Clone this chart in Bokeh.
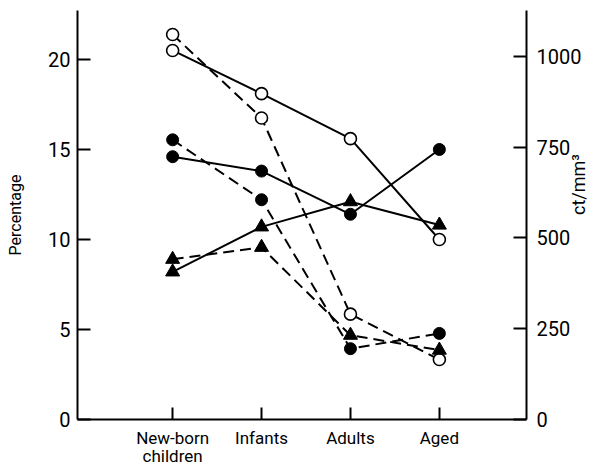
import math
from bokeh.plotting import figure
from bokeh.models import Range1d, LinearAxis, FixedTicker
from bokeh.embed import file_html
from bokeh.resources import INLINE

categories = ["New-born\nchildren", "Infants", "Adults", "Aged"]
pct_ticks = [0, 5, 10, 15, 20]
cnt_ticks = [0, 250, 500, 750, 1000]

# Percentage series (solid lines, left axis)
pct_open = [20.5, 18.1, 15.6, 10.0]
pct_filled = [14.6, 13.8, 11.4, 15.0]
pct_tri = [8.2, 10.7, 12.1, 10.8]

# Count series (dashed lines, right axis, ct/mm3)
cnt_open = [1060, 830, 290, 165]
cnt_filled = [770, 605, 195, 237]
cnt_tri = [441, 474, 232, 191]

xs = list(range(len(categories)))
FONT = "Roboto"

p = figure(width=602, height=468, x_range=Range1d(-1.07, 3.98),
           y_range=Range1d(0, 22.72), output_backend="svg", toolbar_location=None,
           min_border_left=77, min_border_right=76, min_border_top=10,
           min_border_bottom=49)
p.extra_y_ranges = {"right": Range1d(0, 1126)}
p.outline_line_color = None
p.grid.visible = False
p.background_fill_color = "white"
p.border_fill_color = "white"

# x axis
xa = p.xaxis[0]
xa.ticker = FixedTicker(ticks=xs)
xa.major_label_overrides = {i: c for i, c in enumerate(categories)}
xa.minor_tick_line_color = None
xa.major_tick_in = 12
xa.major_tick_out = 0
xa.axis_line_width = 2
xa.major_tick_line_width = 2
xa.major_label_standoff = 8
xa.major_label_text_font = FONT
xa.major_label_text_font_size = "17px"
xa.major_label_text_line_height = 0.9
xa.major_label_text_color = "black"

# left axis
ya = p.yaxis[0]
ya.ticker = FixedTicker(ticks=pct_ticks)
ya.minor_tick_line_color = None
ya.major_tick_in = 13
ya.major_tick_out = 0
ya.axis_line_width = 2
ya.major_tick_line_width = 2
ya.major_label_standoff = 7
ya.major_label_text_font = FONT
ya.major_label_text_font_size = "20px"
ya.major_label_text_color = "black"
ya.axis_label = "Percentage"
ya.axis_label_text_font = FONT
ya.axis_label_text_font_size = "16px"
ya.axis_label_text_font_style = "normal"
ya.axis_label_text_color = "black"
ya.axis_label_standoff = 20

# right axis
ra = LinearAxis(y_range_name="right", ticker=FixedTicker(ticks=cnt_ticks))
ra.minor_tick_line_color = None
ra.major_tick_in = 13
ra.major_tick_out = 0
ra.axis_line_width = 2
ra.major_tick_line_width = 2
ra.major_label_standoff = 10
ra.major_label_text_font = FONT
ra.major_label_text_font_size = "20px"
ra.major_label_text_color = "black"
ra.axis_label = "ct/mm³"
ra.axis_label_orientation = math.pi / 2
ra.axis_label_text_font = FONT
ra.axis_label_text_font_size = "18px"
ra.axis_label_text_font_style = "normal"
ra.axis_label_text_color = "black"
ra.axis_label_standoff = -6
p.add_layout(ra, "right")

LW = 2
DASH = "11 6"
# lines
p.line(xs, pct_open, line_color="black", line_width=LW)
p.line(xs, pct_filled, line_color="black", line_width=LW)
p.line(xs, pct_tri, line_color="black", line_width=LW)
p.line(xs, cnt_open, line_color="black", line_width=LW, line_dash=DASH, y_range_name="right")
p.line(xs, cnt_filled, line_color="black", line_width=LW, line_dash=DASH, y_range_name="right")
p.line(xs, cnt_tri, line_color="black", line_width=LW, line_dash=DASH, y_range_name="right")

# markers
p.scatter(xs, pct_open, marker="circle", size=12, fill_color="white", line_color="black", line_width=1.6)
p.scatter(xs, pct_filled, marker="circle", size=12, fill_color="black", line_color="black")
p.scatter(xs, pct_tri, marker="triangle", size=14, fill_color="black", line_color="black")
p.scatter(xs, cnt_open, marker="circle", size=12, fill_color="white", line_color="black", line_width=1.6, y_range_name="right")
p.scatter(xs, cnt_filled, marker="circle", size=12, fill_color="black", line_color="black", y_range_name="right")
p.scatter(xs, cnt_tri, marker="triangle", size=14, fill_color="black", line_color="black", y_range_name="right")

open("out.html", "w").write(file_html(p, INLINE))
